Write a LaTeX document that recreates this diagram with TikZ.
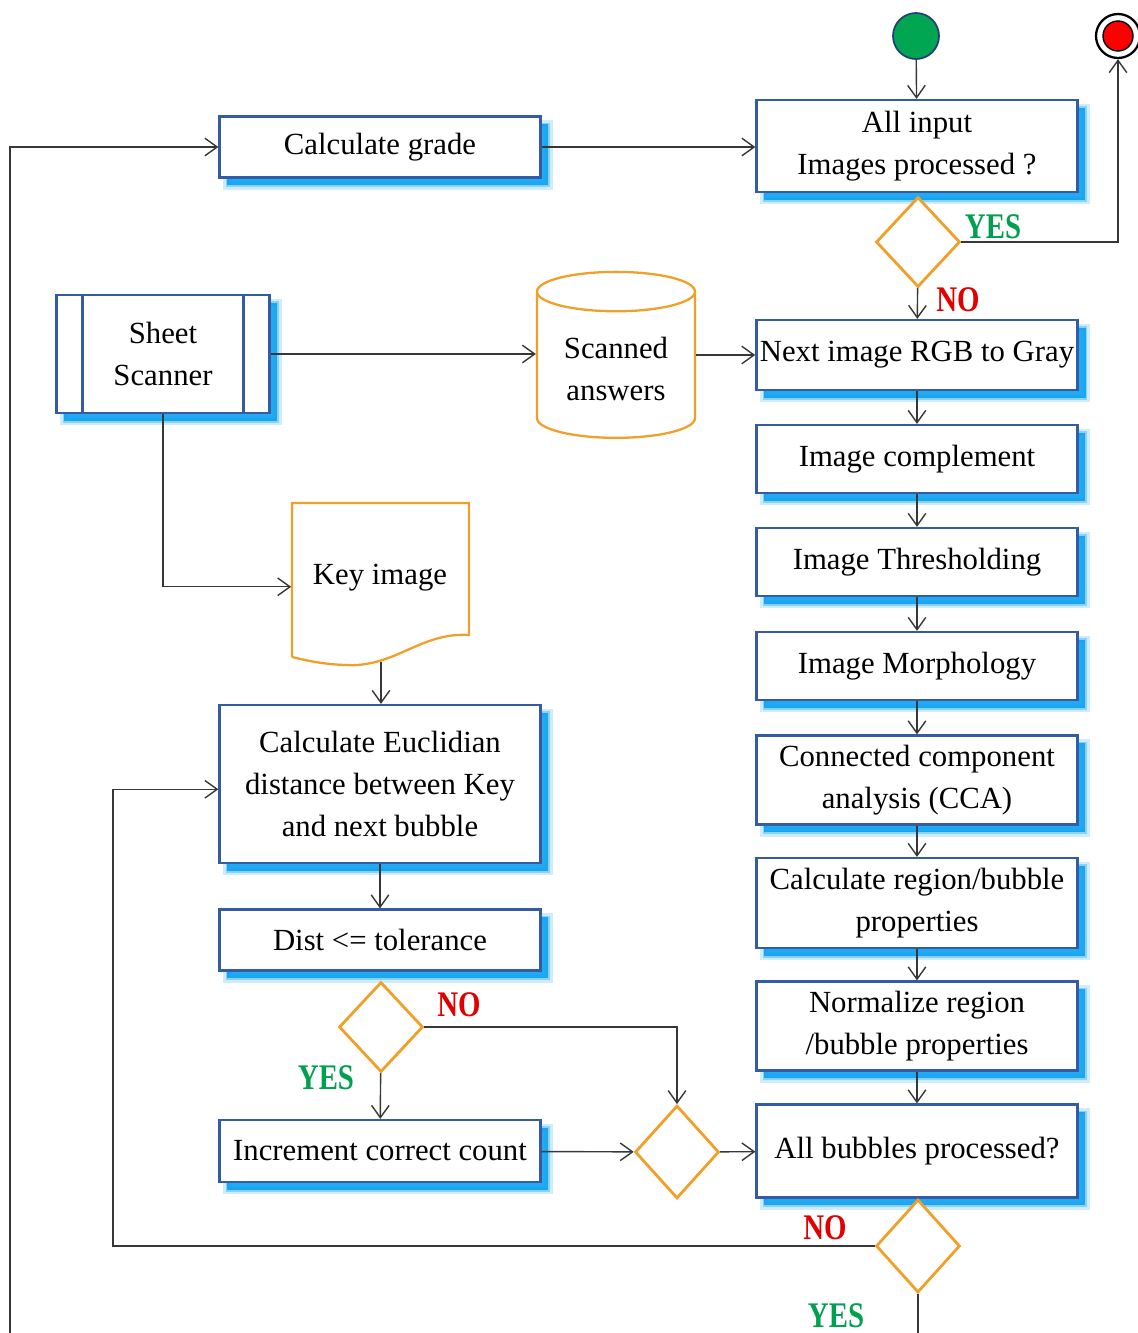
\documentclass[tikz,border=0pt]{standalone}
\usepackage{fontspec}
\setmainfont{Liberation Serif}
\newfontfamily\yesnofont[FakeStretch=0.8]{Liberation Serif}
\usepackage{xcolor}
\usepackage{tikz}
\usetikzlibrary{shapes.geometric}
\usetikzlibrary{arrows.meta}

\definecolor{boxblue}{RGB}{52,92,165}
\definecolor{glowblue}{RGB}{10,160,240}
\definecolor{decorange}{RGB}{240,160,40}
\definecolor{linegray}{RGB}{55,55,55}
\definecolor{yesgreen}{RGB}{0,160,80}
\definecolor{nored}{RGB}{225,0,0}
\definecolor{startgreen}{RGB}{0,166,81}

\newcommand{\boxfont}{\fontsize{17.5}{24}\selectfont}
\newcommand{\answerfont}{\yesnofont\bfseries\fontsize{20.5}{20.5}\selectfont}

\tikzset{
  procbox/.style={draw=boxblue, line width=1.3pt, fill=white, minimum width=6.42cm,
    inner xsep=2pt, align=center, font=\boxfont,
    preaction={fill=glowblue, draw=glowblue, line width=5pt, opacity=0.2, transform canvas={xshift=4.5pt, yshift=-4.5pt}},
    preaction={fill=glowblue, draw=glowblue, line width=2pt, opacity=0.35, transform canvas={xshift=4.5pt, yshift=-4.5pt}},
    preaction={fill=glowblue, opacity=0.8, transform canvas={xshift=4.5pt, yshift=-4.5pt}}},
  decision/.style={diamond, draw=decorange, line width=1.6pt, fill=white,
    minimum width=1.68cm, minimum height=1.8cm, inner sep=0pt},
  storage/.style={cylinder, shape border rotate=90, aspect=0.34, draw=decorange,
    line width=1.3pt, fill=white, align=center, font=\boxfont},
  docline/.style={draw=decorange, line width=1.3pt, fill=white},
  link/.style={draw=linegray, line width=0.8pt, ->},
  yeslbl/.style={text=yesgreen, font=\answerfont},
  nolbl/.style={text=nored, font=\answerfont}
}

\begin{document}
\begin{tikzpicture}[x=0.02cm, y=-0.02cm, >={Straight Barb[length=7pt,width=10pt]}]
  \useasboundingbox (0,0) rectangle (1137,1333);

  % start / stop
  \node[circle, draw=boxblue!70!black, line width=1pt, fill=startgreen, minimum size=0.92cm] (start) at (916,36) {};
  \node[circle, draw=black, line width=1.3pt, fill=white, minimum size=0.88cm] (stop) at (1118,36) {};
  \node[circle, draw=black, line width=0.8pt, fill=red, minimum size=0.6cm] (stopdot) at (1118,36) {};

  % right column
  \node[procbox, minimum height=1.84cm] (allin) at (917,146) {All input\\Images processed ?};
  \node[decision] (imgdec) at (918,242) {};
  \node[procbox, minimum height=1.4cm] (rgb) at (917,355) {Next image RGB to Gray};
  \node[procbox, minimum height=1.36cm] (compl) at (917,459) {Image complement};
  \node[procbox, minimum height=1.36cm] (thresh) at (917,562) {Image Thresholding};
  \node[procbox, minimum height=1.36cm] (morph) at (917,666) {Image Morphology};
  \node[procbox, minimum height=1.78cm] (cca) at (917,780) {Connected component\\analysis (CCA)};
  \node[procbox, minimum height=1.8cm] (props) at (917,903) {Calculate region/bubble\\properties};
  \node[procbox, minimum height=1.78cm] (norm) at (917,1026) {Normalize region\\/bubble properties};
  \node[procbox, minimum height=1.86cm] (allbub) at (917,1151) {All bubbles processed?};
  \node[decision, minimum height=1.86cm] (bubdec) at (918,1246) {};

  % left part
  \node[procbox, minimum height=1.22cm] (grade) at (380,147) {Calculate grade};
  \node[procbox, minimum width=4.26cm, minimum height=2.36cm] (scanner) at (163,354) {Sheet\\Scanner};
  \draw[boxblue, line width=1.3pt] ([xshift=0.54cm]scanner.north west) -- ([xshift=0.54cm]scanner.south west);
  \draw[boxblue, line width=1.3pt] ([xshift=-0.54cm]scanner.north east) -- ([xshift=-0.54cm]scanner.south east);
  \node[storage, minimum width=3.16cm, minimum height=3.32cm] (answers) at (616,369) {Scanned\\answers};

  \draw[docline] (292,657) -- (292,503) -- (469,503) -- (469,635)
    .. controls (420,632) and (395,668) .. (345,665)
    .. controls (320,664) and (305,660) .. (292,657);
  \node[font=\boxfont, minimum width=3.54cm, minimum height=3.08cm] (key) at (380,578) {Key image};
  \coordinate (keybot) at (381,662);

  \node[procbox, minimum height=3.16cm] (euclid) at (380,784) {Calculate Euclidian\\distance between Key\\and next bubble};
  \node[procbox, minimum height=1.22cm] (dist) at (380,940) {Dist <= tolerance};
  \node[decision] (distdec) at (381,1027) {};
  \node[procbox, minimum height=1.24cm] (incr) at (380,1151) {Increment correct count};
  \node[decision, minimum height=1.86cm] (joindec) at (677,1152) {};

  % labels
  \node[yeslbl] (yes1) at (993,227) {YES};
  \node[nolbl] (no1) at (958,300) {NO};
  \node[nolbl] (no2) at (459,1005) {NO};
  \node[yeslbl] (yes2) at (326,1078) {YES};
  \node[nolbl] (no3) at (825,1228) {NO};
  \node[yeslbl] (yes3) at (836,1316) {YES};

  % free ends
  \coordinate (loopturn) at (113,1246);
  \coordinate (exitend) at (918,1333);
  \coordinate (gradestart) at (10,1333);

  % connectors
  \draw[link] (start) -- (allin);
  \draw[link] (grade.east) -- (grade.east -| allin.west);
  \draw[link] (imgdec.east) -| (stop.south);
  \draw[link] (imgdec) -- (rgb);
  \draw[link] (scanner.east) -- (scanner.east -| answers.west);
  \draw[link] (answers.east |- rgb.west) -- (rgb.west);
  \draw[link] (rgb) -- (compl);
  \draw[link] (compl) -- (thresh);
  \draw[link] (thresh) -- (morph);
  \draw[link] (morph) -- (cca);
  \draw[link] (cca) -- (props);
  \draw[link] (props) -- (norm);
  \draw[link] (norm) -- (allbub);
  \draw[link] (bubdec.west) -- (loopturn) |- ([yshift=-3pt]euclid.west);
  \draw[draw=linegray, line width=0.8pt] (bubdec.south) -- (exitend);
  \draw[link] (gradestart) |- (grade.west);
  \draw[link] (scanner.south) |- ([yshift=-5pt]key.west);
  \draw[link] (keybot) -- (keybot |- euclid.north);
  \draw[link] (euclid) -- (dist);
  \draw[link] (distdec.east) -| (joindec.north);
  \draw[link] (distdec) -- (incr);
  \draw[link] (incr) -- (joindec);
  \draw[link] (joindec) -- (allbub);
\end{tikzpicture}
\end{document}
